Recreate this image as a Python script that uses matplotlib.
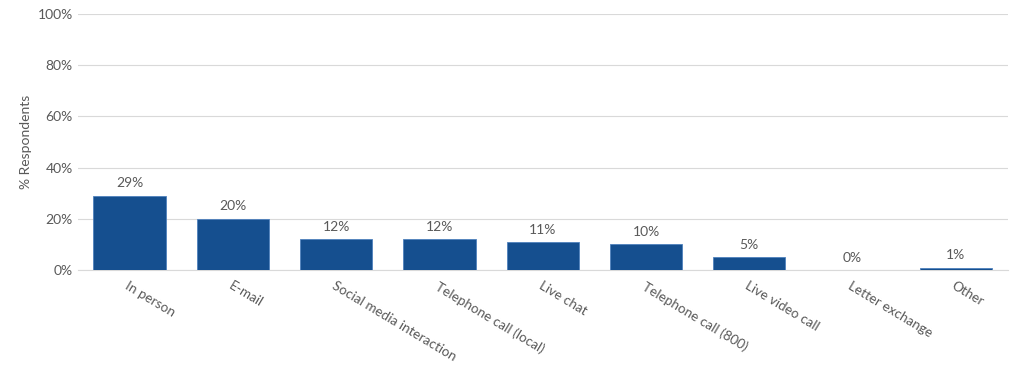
import matplotlib
matplotlib.use('Agg')
import matplotlib.pyplot as plt
from matplotlib.ticker import PercentFormatter

# survey data
categories = ['In person', 'E-mail', 'Social media interaction', 'Telephone call (local)',
              'Live chat', 'Telephone call (800)', 'Live video call', 'Letter exchange', 'Other']
values = [29, 20, 12, 12, 11, 10, 5, 0, 1]

plt.rcParams['font.family'] = ['Lato', 'DejaVu Sans']
grey = '#595959'

fig = plt.figure(figsize=(10.24, 3.68), dpi=100)
ax = fig.add_axes([0.076, 0.266, 0.908, 0.696])

x = range(len(categories))
bars = ax.bar(x, values, width=0.7, color='#154F8F', edgecolor='#4F81BD', linewidth=0.6, zorder=3)
for xi, v in zip(x, values):
    ax.text(xi, v + 2.5, f'{v}%', ha='center', va='bottom', fontsize=10, color=grey)

ax.set_xlim(-0.5, len(categories) - 0.5)
ax.set_ylim(0, 100)
ax.set_yticks(range(0, 101, 20))
ax.yaxis.set_major_formatter(PercentFormatter(decimals=0))
ax.grid(axis='y', color='#D9D9D9', linewidth=0.8, zorder=0)
ax.set_ylabel('% Respondents', fontsize=10, color=grey)

ax.set_xticks(list(x))
ax.set_xticklabels(categories, rotation=-31, ha='left', rotation_mode='anchor', fontsize=9.7, color=grey)
ax.tick_params(axis='both', length=0, labelsize=10, labelcolor=grey)
ax.tick_params(axis='x', pad=7, labelsize=9.7)
for s in ['top', 'right', 'left']:
    ax.spines[s].set_visible(False)
ax.spines['bottom'].set_color('#D9D9D9')

fig.savefig('out.png', dpi=100)
